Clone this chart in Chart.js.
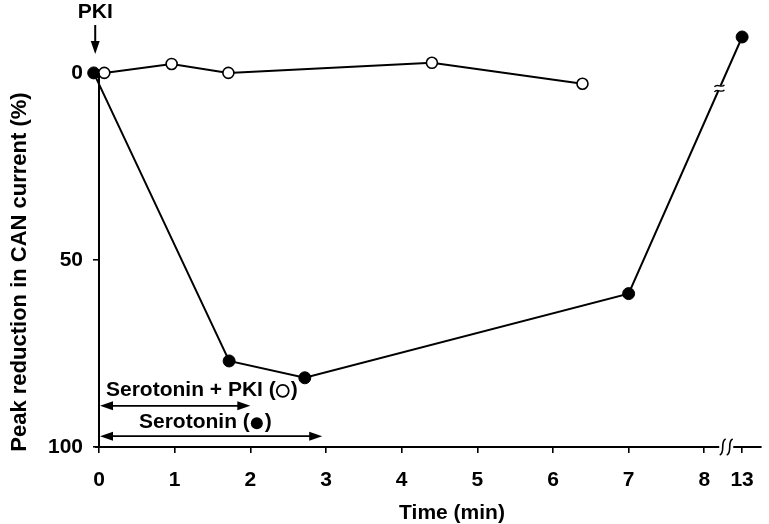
<!DOCTYPE html>
<html>
<head>
<meta charset="utf-8">
<script src="https://cdn.jsdelivr.net/npm/chart.js@4/dist/chart.umd.min.js"></script>
<style>
  html, body { margin: 0; padding: 0; background: #fff; }
  #wrap { width: 769px; height: 524px; }
</style>
</head>
<body>
<div id="wrap"><canvas id="canChart" width="769" height="524"></canvas></div>
<script>
// time (min) and peak reduction in CAN current (%)
const pkiTimes = [0.07, 0.96, 1.71, 4.40, 6.39];
const pkiValues = [0, -2.4, 0, -2.7, 2.9];
const seroTimes = [-0.07, 1.72, 2.72, 7.0, 13];
const seroValues = [0, 77, 81.5, 59, -9.6];
const xTickLabels = [0, 1, 2, 3, 4, 5, 6, 7, 8, 13];
const yTickLabels = [0, 50, 100];
// application bars (min)
const pkiBar = [0, 2.0];
const seroBar = [0, 2.95];

const FONT = '"Liberation Sans", Arial, sans-serif';

// axis is broken after 8 min; 13 min sits half a unit past 8
function axisPos(t) {
  return t <= 8 ? t : 8 + (t - 8) * 0.1;
}

function toPoints(times, values) {
  return times.map((t, i) => ({ x: axisPos(t), y: values[i] }));
}

function arrowHead(ctx, x, y, dir) {
  ctx.beginPath();
  ctx.moveTo(x, y);
  ctx.lineTo(x - dir * 13, y - 4.5);
  ctx.lineTo(x - dir * 13, y + 4.5);
  ctx.closePath();
  ctx.fill();
}

function doubleArrow(ctx, x1, x2, y) {
  ctx.beginPath();
  ctx.moveTo(x1 + 4, y);
  ctx.lineTo(x2 - 4, y);
  ctx.stroke();
  arrowHead(ctx, x1, y, -1);
  arrowHead(ctx, x2, y, 1);
}

// label like "Serotonin (" + circle + ")"
function labelWithMark(ctx, before, filled, x, y) {
  ctx.fillText(before, x, y);
  const w = ctx.measureText(before).width;
  const cx = x + w + 7;
  ctx.beginPath();
  ctx.arc(cx, y + 1, 6, 0, Math.PI * 2);
  if (filled) {
    ctx.fill();
  } else {
    ctx.lineWidth = 1.8;
    ctx.stroke();
  }
  ctx.fillText(')', cx + 8, y);
}

const extras = {
  id: 'extras',
  afterDraw(chart) {
    const ctx = chart.ctx;
    const xs = chart.scales.x;
    const ys = chart.scales.y;
    const area = chart.chartArea;
    ctx.save();
    ctx.strokeStyle = '#000';
    ctx.fillStyle = '#000';
    ctx.lineWidth = 2;

    // y axis line only spans 0..100
    const x0 = xs.getPixelForValue(0);
    ctx.beginPath();
    ctx.moveTo(x0, ys.getPixelForValue(0));
    ctx.lineTo(x0, ys.getPixelForValue(100));
    ctx.stroke();
    // x axis runs a little past 0 on the left
    ctx.beginPath();
    ctx.moveTo(x0 - 4, area.bottom);
    ctx.lineTo(x0, area.bottom);
    ctx.stroke();

    // break marks on the x axis
    const bx = xs.getPixelForValue(8.29);
    const by = area.bottom;
    ctx.fillStyle = '#fff';
    ctx.fillRect(bx - 7, by - 3, 14, 6);
    ctx.fillStyle = '#000';
    ctx.lineWidth = 1.6;
    [-3.5, 3.5].forEach(function (off) {
      ctx.beginPath();
      ctx.moveTo(bx + off - 3, by + 8);
      ctx.bezierCurveTo(bx + off + 3, by + 6, bx + off - 3, by - 6, bx + off + 3, by - 8);
      ctx.stroke();
    });

    // break marks on the serotonin line
    const pts = chart.getDatasetMeta(1).data;
    const a = pts[3], b = pts[4];
    const f = 0.8;
    const lx = a.x + (b.x - a.x) * f;
    const ly = a.y + (b.y - a.y) * f;
    ctx.fillStyle = '#fff';
    ctx.fillRect(lx - 3, ly - 2.5, 6, 5);
    ctx.lineWidth = 1.4;
    [-2.5, 2.5].forEach(function (off) {
      ctx.beginPath();
      ctx.moveTo(lx - 5, ly + off + 1);
      ctx.bezierCurveTo(lx - 2, ly + off - 3, lx + 2, ly + off + 3, lx + 5, ly + off - 1);
      ctx.stroke();
    });
    ctx.fillStyle = '#000';

    // PKI marker
    ctx.font = 'bold 21px ' + FONT;
    ctx.textAlign = 'center';
    ctx.textBaseline = 'middle';
    const px = xs.getPixelForValue(-0.05);
    ctx.fillText('PKI', px, 12);
    ctx.lineWidth = 2;
    ctx.beginPath();
    ctx.moveTo(px, 25);
    ctx.lineTo(px, 44);
    ctx.stroke();
    ctx.beginPath();
    ctx.moveTo(px, 54);
    ctx.lineTo(px - 4.5, 41);
    ctx.lineTo(px + 4.5, 41);
    ctx.closePath();
    ctx.fill();

    // application bars
    ctx.lineWidth = 1.8;
    const y1 = ys.getPixelForValue(89.0);
    const y2 = ys.getPixelForValue(97.1);
    doubleArrow(ctx, xs.getPixelForValue(pkiBar[0]) + 1, xs.getPixelForValue(pkiBar[1]), y1);
    doubleArrow(ctx, xs.getPixelForValue(seroBar[0]) + 1, xs.getPixelForValue(seroBar[1]), y2);
    ctx.font = 'bold 21px ' + FONT;
    ctx.textAlign = 'left';
    labelWithMark(ctx, 'Serotonin + PKI (', false, 106, y1 - 16);
    ctx.lineWidth = 2;
    labelWithMark(ctx, 'Serotonin (', true, 139, y2 - 14);

    // axis titles
    ctx.textAlign = 'center';
    ctx.font = 'bold 21px ' + FONT;
    ctx.fillText('Time (min)', 452, 513);
    ctx.font = 'bold 22px ' + FONT;
    ctx.translate(20, 272);
    ctx.rotate(-Math.PI / 2);
    ctx.fillText('Peak reduction in CAN current (%)', 0, 0);
    ctx.restore();
  }
};

new Chart(document.getElementById('canChart'), {
  type: 'line',
  data: {
    datasets: [
      {
        label: 'Serotonin + PKI',
        data: toPoints(pkiTimes, pkiValues),
        borderColor: '#000',
        borderWidth: 2,
        backgroundColor: '#fff',
        pointBackgroundColor: '#fff',
        pointBorderColor: '#000',
        pointBorderWidth: 1.6,
        pointRadius: 5.5,
        tension: 0,
        clip: false
      },
      {
        label: 'Serotonin',
        data: toPoints(seroTimes, seroValues),
        borderColor: '#000',
        borderWidth: 2,
        backgroundColor: '#000',
        pointBackgroundColor: '#000',
        pointBorderColor: '#000',
        pointBorderWidth: 1,
        pointRadius: 6,
        tension: 0,
        clip: false
      }
    ]
  },
  options: {
    responsive: false,
    animation: false,
    layout: { padding: { top: 34, right: 4, left: 0, bottom: 0 } },
    plugins: {
      legend: { display: false },
      tooltip: { enabled: false }
    },
    scales: {
      x: {
        type: 'linear',
        min: 0,
        max: 8.75,
        afterFit: (scale) => { scale.height = 77; },
        afterBuildTicks: (scale) => {
          scale.ticks = xTickLabels.map(v => ({ value: axisPos(v) }));
        },
        border: { display: true, color: '#000', width: 2 },
        grid: { drawOnChartArea: false, drawTicks: true, tickLength: 6, color: '#000', lineWidth: 1.6 },
        ticks: {
          autoSkip: false,
          maxRotation: 0,
          padding: 15,
          color: '#000',
          font: { family: FONT, size: 21, weight: 'bold' },
          callback: (val, i) => String(xTickLabels[i])
        }
      },
      y: {
        type: 'linear',
        reverse: true,
        min: -10.4,
        max: 100,
        afterFit: (scale) => { scale.width = 99; },
        afterBuildTicks: (scale) => {
          scale.ticks = yTickLabels.map(v => ({ value: v }));
        },
        border: { display: false },
        grid: { drawOnChartArea: false, drawTicks: true, tickLength: 6, color: '#000', lineWidth: 1.6 },
        ticks: {
          padding: 10,
          color: '#000',
          font: { family: FONT, size: 21, weight: 'bold' },
          callback: (val, i) => String(yTickLabels[i])
        }
      }
    }
  },
  plugins: [extras]
});
</script>
</body>
</html>
